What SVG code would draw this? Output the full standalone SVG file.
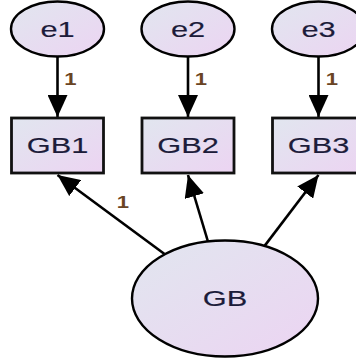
<svg xmlns="http://www.w3.org/2000/svg" width="356" height="358" viewBox="0 0 356 358">
  <defs>
    <linearGradient id="fillGrad" x1="0" y1="0" x2="1" y2="1">
      <stop offset="0" stop-color="#e1e6ef"/>
      <stop offset="1" stop-color="#ecd4f2"/>
    </linearGradient>
    <marker id="arrow" markerUnits="userSpaceOnUse" markerWidth="22" markerHeight="20" refX="22" refY="10" orient="auto">
      <path d="M0,0 L22,10 L0,20 z" fill="#000"/>
    </marker>
    <style>
      .latent { fill: url(#fillGrad); stroke: #000; stroke-width: 2.4; }
      .observed { fill: url(#fillGrad); stroke: #111; stroke-width: 2.8; }
      .label { font-family: "Liberation Sans", Arial, sans-serif; font-size: 22px; fill: #1c1c3a; stroke: #1c1c3a; stroke-width: 0.15; text-anchor: middle; }
      .coef { font-family: "Liberation Sans", Arial, sans-serif; font-size: 17px; font-weight: bold; fill: #6a4424; text-anchor: middle; }
      .edge { stroke: #000; stroke-width: 2.6; fill: none; marker-end: url(#arrow); }
    </style>
  </defs>

  <!-- paths and their fixed coefficients (text widened 1.4x horizontally) -->
  <g id="connectors">
    <line class="edge" x1="57.5" y1="57" x2="57.5" y2="117"/>
    <line class="edge" x1="188" y1="57" x2="188" y2="117"/>
    <line class="edge" x1="318.5" y1="57" x2="318.5" y2="117"/>
    <line class="edge" x1="164.5" y1="254" x2="57.5" y2="175"/>
    <line class="edge" x1="207.8" y1="241" x2="188" y2="175"/>
    <line class="edge" x1="264.8" y1="245.6" x2="318.5" y2="175"/>
    <text class="coef" transform="translate(70.5,85) scale(1.3,1)">1</text>
    <text class="coef" transform="translate(201,85) scale(1.3,1)">1</text>
    <text class="coef" transform="translate(332,85) scale(1.3,1)">1</text>
    <text class="coef" transform="translate(123,208) scale(1.3,1)">1</text>
  </g>

  <!-- error terms -->
  <g id="e1">
    <ellipse class="latent" cx="57.5" cy="29" rx="46.5" ry="27.5"/>
    <text class="label" transform="translate(57.5,37) scale(1.4,1)">e1</text>
  </g>
  <g id="e2">
    <ellipse class="latent" cx="188" cy="29" rx="46.5" ry="27.5"/>
    <text class="label" transform="translate(188,37) scale(1.4,1)">e2</text>
  </g>
  <g id="e3">
    <ellipse class="latent" cx="318.5" cy="29" rx="46.5" ry="27.5"/>
    <text class="label" transform="translate(318.5,37) scale(1.4,1)">e3</text>
  </g>

  <!-- observed indicators -->
  <g id="GB1">
    <rect class="observed" x="11.5" y="118" width="92" height="55"/>
    <text class="label" transform="translate(57.5,153) scale(1.4,1)">GB1</text>
  </g>
  <g id="GB2">
    <rect class="observed" x="142" y="118" width="92" height="55"/>
    <text class="label" transform="translate(188,153) scale(1.4,1)">GB2</text>
  </g>
  <g id="GB3">
    <rect class="observed" x="272.5" y="118" width="92" height="55"/>
    <text class="label" transform="translate(318.5,153) scale(1.4,1)">GB3</text>
  </g>

  <!-- latent factor -->
  <g id="GB">
    <ellipse class="latent" cx="225" cy="298.5" rx="93" ry="58"/>
    <text class="label" transform="translate(225,306) scale(1.4,1)">GB</text>
  </g>
</svg>
